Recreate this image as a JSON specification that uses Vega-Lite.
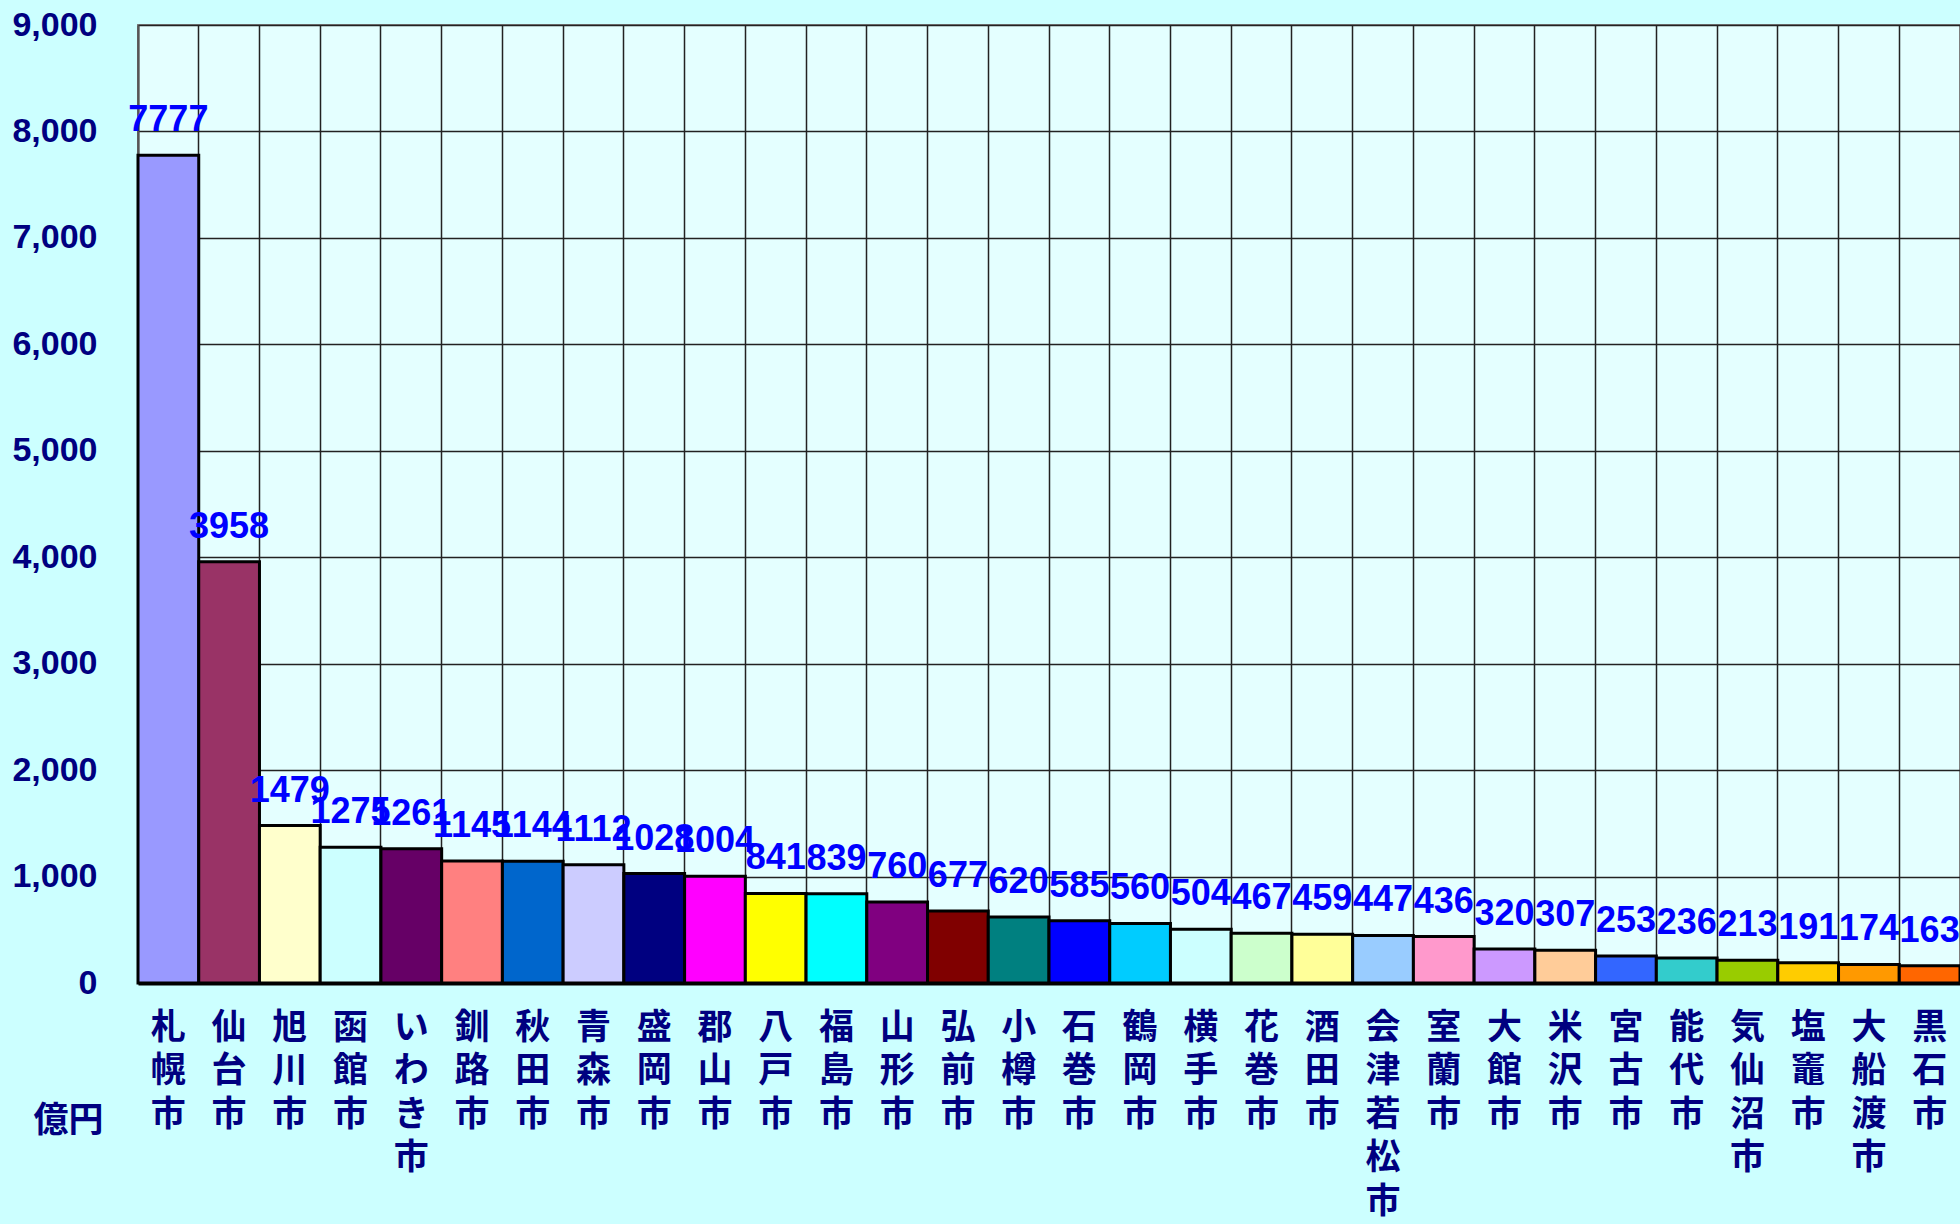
{
  "$schema": "https://vega.github.io/schema/vega-lite/v6.json",
  "width": 1822,
  "height": 958,
  "autosize": {"type": "none"},
  "padding": {"left": 138, "top": 25, "right": 0, "bottom": 241},
  "background": "#CCFFFF",
  "config": {
    "view": {"fill": "#E4FFFF", "stroke": "#7F7F7F", "strokeWidth": 2}
  },
  "data": {
    "values": [
      {"city": "札幌市", "value": 7777},
      {"city": "仙台市", "value": 3958},
      {"city": "旭川市", "value": 1479},
      {"city": "函館市", "value": 1275},
      {"city": "いわき市", "value": 1261},
      {"city": "釧路市", "value": 1145},
      {"city": "秋田市", "value": 1144},
      {"city": "青森市", "value": 1112},
      {"city": "盛岡市", "value": 1028},
      {"city": "郡山市", "value": 1004},
      {"city": "八戸市", "value": 841},
      {"city": "福島市", "value": 839},
      {"city": "山形市", "value": 760},
      {"city": "弘前市", "value": 677},
      {"city": "小樽市", "value": 620},
      {"city": "石巻市", "value": 585},
      {"city": "鶴岡市", "value": 560},
      {"city": "横手市", "value": 504},
      {"city": "花巻市", "value": 467},
      {"city": "酒田市", "value": 459},
      {"city": "会津若松市", "value": 447},
      {"city": "室蘭市", "value": 436},
      {"city": "大館市", "value": 320},
      {"city": "米沢市", "value": 307},
      {"city": "宮古市", "value": 253},
      {"city": "能代市", "value": 236},
      {"city": "気仙沼市", "value": 213},
      {"city": "塩竈市", "value": 191},
      {"city": "大船渡市", "value": 174},
      {"city": "黒石市", "value": 163}
    ]
  },
  "encoding": {
    "x": {
      "field": "city",
      "type": "nominal",
      "sort": null,
      "scale": {"paddingInner": 0, "paddingOuter": 0},
      "axis": {
        "title": null,
        "bandPosition": 0,
        "grid": true,
        "gridColor": "#222222",
        "gridWidth": 1.5,
        "ticks": false,
        "domain": true,
        "domainColor": "#000000",
        "domainWidth": 4,
        "labelAngle": 0,
        "labelAlign": "center",
        "labelBaseline": "top",
        "labelPadding": 27,
        "labelFont": "Noto Sans CJK JP",
        "labelFontWeight": "bold",
        "labelFontSize": 35,
        "labelColor": "#000080",
        "labelLineHeight": 43.5,
        "labelExpr": "split(datum.label, '')",
        "labelOverlap": false,
        "labelLimit": 0,
        "zindex": 0
      }
    },
    "y": {
      "field": "value",
      "type": "quantitative",
      "scale": {"domain": [0, 9000], "nice": false},
      "axis": {
        "values": [0, 1000, 2000, 3000, 4000, 5000, 6000, 7000, 8000, 9000],
        "format": ",.0f",
        "title": "億円",
        "titleAngle": 0,
        "titleAlign": "center",
        "titleBaseline": "middle",
        "titleX": -70,
        "titleY": 1095,
        "titleFont": "Noto Sans CJK JP",
        "titleFontWeight": "bold",
        "titleFontSize": 35,
        "titleColor": "#000080",
        "grid": true,
        "gridColor": "#222222",
        "gridWidth": 1.5,
        "ticks": false,
        "domain": true,
        "domainColor": "#555555",
        "domainWidth": 2,
        "labelPadding": 41,
        "labelFont": "Liberation Sans",
        "labelFontWeight": "bold",
        "labelFontSize": 34,
        "labelColor": "#000080",
        "zindex": 0
      }
    }
  },
  "layer": [
    {
      "mark": {"type": "bar", "stroke": "#000000", "strokeWidth": 3},
      "encoding": {
        "color": {
          "field": "city",
          "type": "nominal",
          "sort": null,
          "legend": null,
          "scale": {
            "domain": ["札幌市","仙台市","旭川市","函館市","いわき市","釧路市","秋田市","青森市","盛岡市","郡山市","八戸市","福島市","山形市","弘前市","小樽市","石巻市","鶴岡市","横手市","花巻市","酒田市","会津若松市","室蘭市","大館市","米沢市","宮古市","能代市","気仙沼市","塩竈市","大船渡市","黒石市"],
            "range": ["#9999FF","#993366","#FFFFCC","#CCFFFF","#660066","#FF8080","#0066CC","#CCCCFF","#000080","#FF00FF","#FFFF00","#00FFFF","#800080","#800000","#008080","#0000FF","#00CCFF","#CCFFFF","#CCFFCC","#FFFF99","#99CCFF","#FF99CC","#CC99FF","#FFCC99","#3366FF","#33CCCC","#99CC00","#FFCC00","#FF9900","#FF6600"]
          }
        }
      }
    },
    {
      "mark": {
        "type": "text",
        "color": "#0000FF",
        "font": "Liberation Sans",
        "fontWeight": "bold",
        "fontSize": 36,
        "baseline": "alphabetic",
        "align": "center",
        "dy": -24
      },
      "encoding": {
        "text": {"field": "value", "type": "quantitative", "format": "d"}
      }
    }
  ]
}
